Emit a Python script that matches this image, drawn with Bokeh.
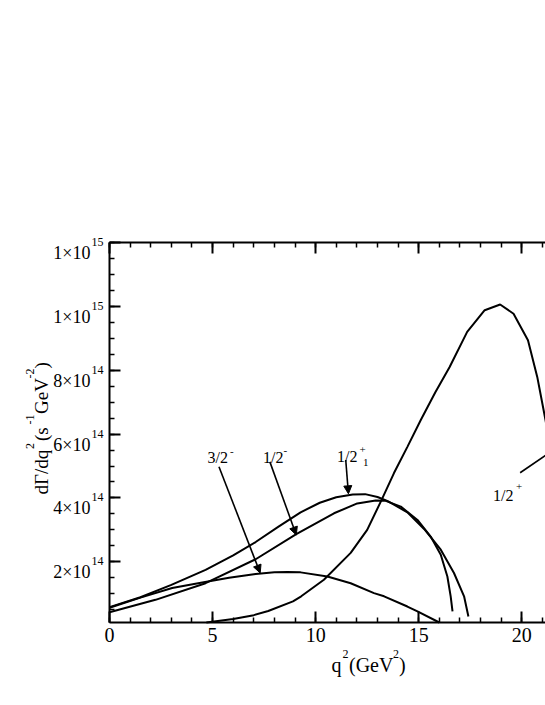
import math
from bokeh.plotting import figure
from bokeh.models import (Range1d, LinearAxis, SingleIntervalTicker, CustomJSTickFormatter,
                          Label, Arrow, NormalHead)
from bokeh.embed import file_html
from bokeh.resources import INLINE

# ---------------- data ----------------
# 1/2+ (ground state)
q2_half_plus = [4.7, 6.0, 7.0, 7.7, 8.9, 9.3, 10.4, 11.7, 12.5, 13.2, 13.8, 14.45, 15.1,
                15.8, 16.5, 17.35, 18.2, 18.95, 19.6, 20.3, 20.75, 21.15, 21.5]
rate_half_plus = [1.0e13, 2.1e13, 3.3e13, 4.6e13, 7.6e13, 9.2e13, 1.44e14, 2.28e14, 3.0e14,
                  3.94e14, 4.78e14, 5.6e14, 6.44e14, 7.3e14, 8.1e14, 9.2e14, 9.88e14, 1.006e15,
                  9.77e14, 8.94e14, 7.79e14, 6.44e14, 5.2e14]
# 1/2+_1 (radial excitation)
q2_half_plus1 = [0.0, 1.5, 3.0, 4.66, 6.0, 7.09, 8.2, 9.27, 10.2, 11.0, 11.8, 12.4, 13.0,
                 13.5, 14.45, 15.26, 16.07, 16.71, 17.2, 17.41]
rate_half_plus1 = [5.8e13, 8.9e13, 1.28e14, 1.75e14, 2.2e14, 2.62e14, 3.1e14, 3.55e14,
                   3.85e14, 4.02e14, 4.11e14, 4.12e14, 4.03e14, 3.9e14, 3.55e14, 3.03e14,
                   2.38e14, 1.65e14, 9.2e13, 2.9e13]
# 1/2-
q2_half_minus = [0.0, 2.23, 4.66, 7.09, 9.06, 10.89, 12.02, 12.91, 13.4, 14.13, 14.94,
                 15.58, 16.07, 16.39, 16.55, 16.64]
rate_half_minus = [4.2e13, 8.1e13, 1.33e14, 2.08e14, 2.87e14, 3.52e14, 3.83e14, 3.92e14,
                   3.91e14, 3.73e14, 3.31e14, 2.79e14, 2.22e14, 1.54e14, 9.2e13, 4.5e13]
# 3/2-
q2_three_half_minus = [0.0, 1.5, 3.04, 4.5, 5.8, 7.09, 8.0, 8.63, 9.27, 10.57, 11.7, 12.83,
                       13.32, 14.45, 14.94, 16.0]
rate_three_half_minus = [5.6e13, 8.8e13, 1.18e14, 1.35e14, 1.5e14, 1.62e14, 1.67e14, 1.68e14,
                         1.67e14, 1.54e14, 1.33e14, 1.02e14, 9.2e13, 6.0e13, 4.5e13, 1.0e13]

# curve labels: main text, superscript, subscript
curve_names = ["3/2", "1/2", "1/2", "1/2"]
curve_sups = ["-", "-", "+", "+"]
curve_subs = ["", "", "1", ""]
# arrows (start -> end, in data units)
arrow_x0 = [5.31, 7.78, 11.46]
arrow_y0 = [4.98e14, 5.13e14, 5.19e14]
arrow_x1 = [7.31, 9.06, 11.59]
arrow_y1 = [1.65e14, 2.84e14, 4.13e14]
pointer_x = [19.92, 21.15]
pointer_y = [4.79e14, 5.33e14]

y_ticks = [2e14, 4e14, 6e14, 8e14, 1.0e15, 1.2e15]
y_tick_mantissa = ["2", "4", "6", "8", "1", "1"]
y_tick_exponent = ["14", "14", "14", "14", "15", "15"]

# ---------------- layout ----------------
FONT = "Liberation Serif"
X0, X1 = 0.0, 21.15            # visible axis extent
Y0, Y1 = 1.0e13, 1.2e15
W, H = 545, 690
FL, FR, FT, FB = 109, 545, 242, 622   # axis box in canvas pixels

# the plotting frame fills the whole canvas; the axes sit at fixed data locations
sx = (FR - FL) / (X1 - X0)
sy = (FB - FT) / (Y1 - Y0)
x_lo, x_hi = X0 - FL / sx, X1 + (W - FR) / sx
y_lo, y_hi = Y0 - (H - FB) / sy, Y1 + FT / sy


def py_of(y):
    return FB - (y - Y0) * sy


p = figure(width=W, height=H, output_backend="svg", toolbar_location=None,
           x_range=Range1d(x_lo, x_hi), y_range=Range1d(y_lo, y_hi),
           x_axis_location=None, y_axis_location=None,
           min_border=0, min_border_left=0, min_border_right=0,
           min_border_top=0, min_border_bottom=0)
p.title.visible = False
p.outline_line_color = None
p.grid.visible = False
p.background_fill_color = "white"
p.border_fill_color = "white"

empty = CustomJSTickFormatter(code="return ''")


def style_axis(ax):
    ax.axis_line_width = 2
    ax.axis_line_color = "black"
    ax.major_tick_in = 11
    ax.major_tick_out = 0
    ax.minor_tick_in = 5
    ax.minor_tick_out = 0
    ax.major_tick_line_width = 2
    ax.minor_tick_line_width = 1.5
    ax.major_tick_line_color = "black"
    ax.minor_tick_line_color = "black"


bottom = LinearAxis(ticker=SingleIntervalTicker(interval=5, num_minor_ticks=5),
                    fixed_location=Y0, bounds=(X0, X1))
style_axis(bottom)
bottom.major_label_text_font = FONT
bottom.major_label_text_font_size = "20px"
bottom.major_label_text_color = "black"
bottom.major_label_standoff = 5
p.add_layout(bottom, "below")

top = LinearAxis(ticker=SingleIntervalTicker(interval=5, num_minor_ticks=5), formatter=empty,
                 fixed_location=Y1, bounds=(X0, X1))
style_axis(top)
p.add_layout(top, "above")

left = LinearAxis(ticker=SingleIntervalTicker(interval=2e14, num_minor_ticks=4), formatter=empty,
                  fixed_location=X0, bounds=(Y0, Y1 * 1.0001))
style_axis(left)
p.add_layout(left, "left")

# ---------------- curves ----------------
for xs, ys in [(q2_half_plus, rate_half_plus), (q2_half_plus1, rate_half_plus1),
               (q2_half_minus, rate_half_minus), (q2_three_half_minus, rate_three_half_minus)]:
    p.line(xs, ys, line_color="black", line_width=2)

for i in range(len(arrow_x0)):
    p.add_layout(Arrow(end=NormalHead(size=8, fill_color="black", line_color="black", line_width=1),
                       x_start=arrow_x0[i], y_start=arrow_y0[i],
                       x_end=arrow_x1[i], y_end=arrow_y1[i],
                       line_color="black", line_width=1.6))
p.line(pointer_x, pointer_y, line_color="black", line_width=1.6)


def lab(text, px, py, size, align="left", angle=0.0):
    p.add_layout(Label(x=px, y=py, x_units="canvas", y_units="canvas", text=text,
                       text_font=FONT, text_font_size=f"{size}px", text_color="black",
                       text_align=align, text_baseline="alphabetic", angle=angle))


# y tick labels
for v, m, e in zip(y_ticks, y_tick_mantissa, y_tick_exponent):
    ty = py_of(v)
    lab(m + "×10", 90, ty + 10.5, 18, align="right")
    lab(e, 91, ty - 0.5, 12)

# curve labels (canvas-pixel positions of text baselines)
label_main_pos = [(207, 457), (262.5, 456.7), (336.5, 456), (492.5, 495)]
label_sup_pos = [(229.5, 450.5), (283, 450), (359, 449), (515.5, 486)]
label_sub_pos = [None, None, (362.5, 462), None]
for i in range(4):
    lab(curve_names[i], *label_main_pos[i], 16)
    lab(curve_sups[i], *label_sup_pos[i], 11)
    if curve_subs[i]:
        lab(curve_subs[i], *label_sub_pos[i], 11)

# x axis title  q^2(GeV^2)
lab("q", 331, 664, 20)
lab("2", 342, 653, 12)
lab("(GeV", 348.5, 664, 20)
lab("2", 392.5, 653, 12)
lab(")", 398.5, 664, 20)

# y axis title  dΓ/dq^2 (s^-1 GeV^-2), rotated
rot = math.pi / 2
lab("dΓ/dq", 40.5, 494, 19, angle=rot)
lab("2", 29, 448.5, 12, angle=rot)
lab("(s", 40.5, 440.5, 19, angle=rot)
lab("-1", 29, 424, 12, angle=rot)
lab("GeV", 40.5, 413.5, 19, angle=rot)
lab("-2", 29, 378, 12, angle=rot)
lab(")", 40.5, 368, 19, angle=rot)

open("out.html", "w").write(file_html(p, INLINE))
